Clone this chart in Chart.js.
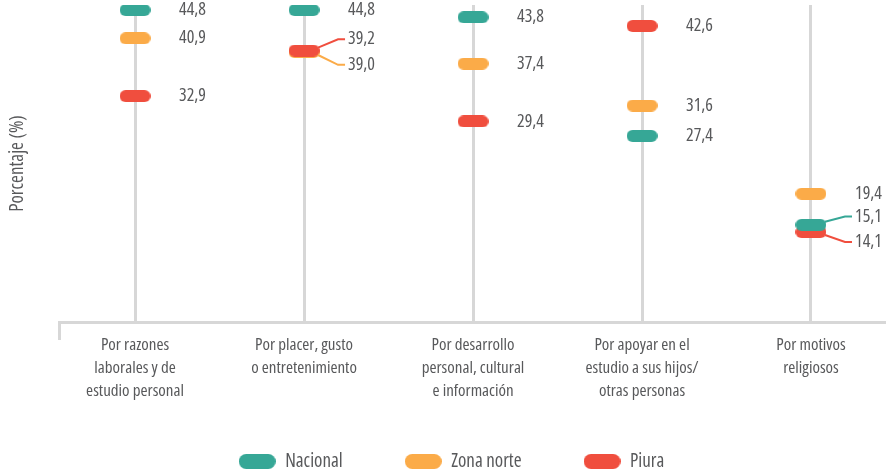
<!DOCTYPE html>
<html>
<head>
<meta charset="utf-8">
<script src="https://cdn.jsdelivr.net/npm/chart.js@4.4.1/dist/chart.umd.min.js"></script>
<style>
  html, body { margin: 0; padding: 0; background: #ffffff; overflow: hidden; }
  #wrap { width: 889px; height: 476px; }
</style>
</head>
<body>
<div id="wrap"><canvas id="c" width="889" height="476"></canvas></div>
<script>
// ---------- data ----------
const categories = [
  ["Por razones", "laborales y de", "estudio personal"],
  ["Por placer, gusto", "o entretenimiento"],
  ["Por desarrollo", "personal, cultural", "e información"],
  ["Por apoyar en el", "estudio a sus hijos/", "otras personas"],
  ["Por motivos", "religiosos"]
];
const seriesNames = ["Nacional", "Zona norte", "Piura"];
const nacional  = [44.8, 44.8, 43.8, 27.4, 15.1];
const zonaNorte = [40.9, 39.0, 37.4, 31.6, 19.4];
const piura     = [32.9, 39.2, 29.4, 42.6, 14.1];
const yTitle = "Porcentaje (%)";

// ---------- styles ----------
const FAMILY = "'Open Sans', sans-serif";
const STRETCH = "condensed";   // condensed width of Open Sans
const TEXT = "#58595b";
const colors = ["#36a796", "#fbab48", "#f04e3e"];
const drawOrder = [0, 2, 1]; // Nacional on top, Piura over Zona norte
const GRID = "#d7d7d7";
const font = size => ({ family: FAMILY, size: size, weight: STRETCH });

function pill(w, h, color) {
  const c = document.createElement("canvas");
  c.width = w; c.height = h;
  const g = c.getContext("2d");
  const r = h / 2;
  g.fillStyle = color;
  g.beginPath();
  g.moveTo(r, 0);
  g.lineTo(w - r, 0);
  g.arc(w - r, r, r, -Math.PI / 2, Math.PI / 2);
  g.lineTo(r, h);
  g.arc(r, r, r, Math.PI / 2, Math.PI * 1.5);
  g.closePath();
  g.fill();
  return c;
}
const pointPills = colors.map(c => pill(31, 12, c));
const legendPills = colors.map(c => pill(37, 15, c));

const seriesValues = [nacional, zonaNorte, piura];
const X_MIN = -0.45, X_MAX = 4.432;

// value labels with leader lines for overlapping points
const valueLabels = {
  id: "valueLabels",
  afterLayout(chart) {
    // nudge the legend row down a little
    if (chart.legend) { chart.legend.top += 5; chart.legend.bottom += 5; }
  },
  afterDatasetsDraw(chart) {
    const ctx = chart.ctx;
    const groups = {};
    chart.data.datasets.forEach((ds, d) => {
      const meta = chart.getDatasetMeta(d);
      meta.data.forEach((pt, i) => {
        (groups[i] = groups[i] || []).push({
          x: pt.x, y: pt.y, ly: pt.y, v: ds.data[i].y, color: colors[d], lead: false
        });
      });
    });
    ctx.save();
    ctx.font = STRETCH + " 18px " + FAMILY;
    ctx.textAlign = "left";
    ctx.textBaseline = "middle";
    Object.values(groups).forEach(g => {
      g.sort((a, b) => a.y - b.y);
      for (let k = 0; k < g.length - 1; k++) {
        const a = g[k], b = g[k + 1];
        if (b.y - a.y < 20) {
          const mid = (a.y + b.y) / 2;
          a.ly = mid - 12; b.ly = mid + 13.5;
          a.lead = b.lead = true;
        }
      }
      g.forEach(e => {
        if (e.lead) {
          ctx.strokeStyle = e.color;
          ctx.lineWidth = 2;
          ctx.beginPath();
          ctx.moveTo(e.x + 14, e.y + (e.ly < e.y ? -3 : 3));
          ctx.lineTo(e.x + 34, e.ly);
          ctx.lineTo(e.x + 41, e.ly);
          ctx.stroke();
        }
        ctx.fillStyle = TEXT;
        ctx.fillText(e.v.toFixed(1).replace(".", ","), e.x + 44, e.ly);
      });
    });
    ctx.restore();
  }
};

const datasets = seriesNames.map((name, d) => ({
  label: name,
  data: seriesValues[d].map((v, i) => ({ x: i, y: v })),
  showLine: false,
  pointStyle: pointPills[d],
  backgroundColor: colors[d],
  borderColor: colors[d],
  order: drawOrder[d]
}));

new Chart(document.getElementById("c"), {
  type: "scatter",
  data: { datasets },
  plugins: [valueLabels],
  options: {
    responsive: false,
    animation: false,
    events: [],
    layout: { padding: { left: 14, right: 0, top: 0, bottom: 0 } },
    plugins: {
      tooltip: { enabled: false },
      legend: {
        position: "bottom",
        labels: {
          usePointStyle: true,
          pointStyleWidth: 37,
          boxHeight: 15,
          padding: 62,
          color: TEXT,
          font: font(19),
          generateLabels(chart) {
            const items = Chart.defaults.plugins.legend.labels.generateLabels(chart);
            items.forEach(it => { it.pointStyle = legendPills[it.datasetIndex]; });
            return items.sort((a, b) => a.datasetIndex - b.datasetIndex);
          }
        }
      }
    },
    scales: {
      x: {
        type: "linear",
        min: X_MIN,
        max: X_MAX,
        afterBuildTicks(scale) {
          scale.ticks = [X_MIN, 0, 1, 2, 3, 4].map(v => ({ value: v }));
        },
        afterFit(scale) {
          const lg = scale.chart.legend ? scale.chart.legend.height : 0;
          scale.height = scale.chart.height - 322 - lg;
          scale._computeLabelArea = () => undefined; // let long labels run below the axis box
        },
        ticks: {
          autoSkip: false,
          maxRotation: 0,
          padding: -7,
          color: TEXT,
          font: Object.assign(font(17), { lineHeight: 1.38 }),
          callback: v => (Number.isInteger(v) && v >= 0 ? categories[v] : "")
        },
        grid: {
          lineWidth: 3,
          tickLength: 18,
          tickWidth: 3,
          color: c => (c.tick && c.tick.value >= 0 ? GRID : "rgba(0,0,0,0)"),
          tickColor: c => (c.tick && c.tick.value < 0 ? GRID : "rgba(0,0,0,0)")
        },
        border: { display: true, color: GRID, width: 3 }
      },
      y: {
        min: 1.66,
        max: 45.5,
        afterFit(scale) { scale.width = 45; },
        ticks: { display: false },
        grid: { display: false },
        border: { display: false },
        title: {
          display: true,
          text: yTitle,
          color: TEXT,
          font: font(19),
          padding: { top: -8, bottom: 0 }
        }
      }
    }
  }
});
</script>
</body>
</html>
